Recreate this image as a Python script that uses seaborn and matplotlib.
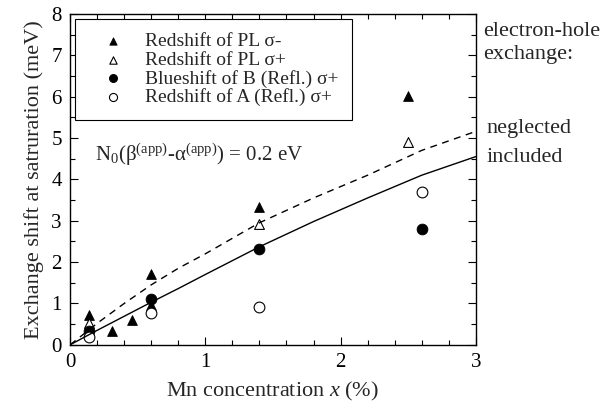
import numpy as np
import pandas as pd
import seaborn as sns
import matplotlib.pyplot as plt
from matplotlib.ticker import MultipleLocator

# measured points
pl_minus_x = [0.14, 0.31, 0.46, 0.6, 0.6, 1.4, 2.5]
pl_minus_y = [0.72, 0.33, 0.61, 1.70, 0.95, 3.33, 6.02]
pl_plus_x = [0.14, 1.4, 2.5]
pl_plus_y = [0.52, 2.91, 4.90]
refl_b_x = [0.14, 0.6, 1.4, 2.6]
refl_b_y = [0.33, 1.11, 2.31, 2.80]
refl_a_x = [0.14, 0.6, 1.4, 2.6]
refl_a_y = [0.19, 0.77, 0.92, 3.70]

# theory curves
curve_x = [0, 0.2, 0.4, 0.6, 0.8, 1.0, 1.4, 1.8, 2.2, 2.6, 3.0]
neglected_y = [0, 0.52, 1.0, 1.45, 1.85, 2.2, 2.95, 3.55, 4.1, 4.7, 5.16]
included_y = [0, 0.35, 0.69, 1.03, 1.36, 1.7, 2.37, 2.98, 3.55, 4.1, 4.55]

sns.set_style("ticks")
plt.rcParams['font.family'] = ['Liberation Serif', 'DejaVu Serif']
plt.rcParams['mathtext.fontset'] = 'custom'
plt.rcParams['mathtext.rm'] = 'Liberation Serif'
plt.rcParams['mathtext.it'] = 'Liberation Serif:italic'

fig = plt.figure(figsize=(6.1, 4.09), dpi=100)
ax = fig.add_axes([0.115, 0.157, 0.665, 0.809])

df_curve = pd.DataFrame({'x': curve_x, 'neg': neglected_y, 'inc': included_y})
sns.lineplot(data=df_curve, x='x', y='neg', ax=ax, color='black', lw=1,
             linestyle=(0, (5, 4)), legend=False)
sns.lineplot(data=df_curve, x='x', y='inc', ax=ax, color='black', lw=1, legend=False)

sns.scatterplot(x=pl_minus_x, y=pl_minus_y, ax=ax, marker='^', s=50,
                color='black', edgecolor='black', label=u'Redshift of PL \u03c3-')
sns.scatterplot(x=pl_plus_x, y=pl_plus_y, ax=ax, marker='^', s=50,
                facecolor='white', edgecolor='black', linewidth=0.8,
                label=u'Redshift of PL \u03c3+')
sns.scatterplot(x=refl_b_x, y=refl_b_y, ax=ax, marker='o', s=60,
                color='black', edgecolor='black', label=u'Blueshift of B (Refl.) \u03c3+')
sns.scatterplot(x=refl_a_x, y=refl_a_y, ax=ax, marker='o', s=60,
                facecolor='white', edgecolor='black', linewidth=0.8,
                label=u'Redshift of A (Refl.) \u03c3+')

ax.set_xlim(0, 3)
ax.set_ylim(0, 8)
ax.xaxis.set_major_locator(MultipleLocator(1))
ax.xaxis.set_minor_locator(MultipleLocator(0.2))
ax.yaxis.set_major_locator(MultipleLocator(1))
ax.yaxis.set_minor_locator(MultipleLocator(0.5))
ax.tick_params(which='both', direction='in', top=True, right=True, width=0.8,
               color='black', labelsize=15, labelcolor='black')
ax.tick_params(which='major', length=6, pad=6)
ax.tick_params(which='minor', length=3.5)
for sp in ax.spines.values():
    sp.set_color('black')
    sp.set_linewidth(1)

ax.set_xlabel(r'Mn concentration $\mathit{x}$ (%)', fontsize=16, labelpad=6)
ax.set_ylabel('Exchange shift at satruration (meV)', fontsize=16, labelpad=5)

leg = ax.legend(loc='upper left', bbox_to_anchor=(0.012, 0.985), borderaxespad=0,
                fontsize=14, frameon=True, fancybox=False, edgecolor='black',
                framealpha=1, handletextpad=0.4, borderpad=0.7, labelspacing=0.05,
                handlelength=2.5, markerscale=0.75)
leg.get_frame().set_linewidth(0.8)

ax.text(0.185, 4.6, u'N$_0$(\u03b2$^{\\rm (app)}$-\u03b1$^{\\rm (app)}$) = 0.2 eV',
        fontsize=15, va='center')

fig.text(0.792, 0.922, 'electron-hole', fontsize=16, va='center')
fig.text(0.792, 0.866, 'exchange:', fontsize=16, va='center')
fig.text(0.798, 0.687, 'neglected', fontsize=16, va='center')
fig.text(0.798, 0.616, 'included', fontsize=16, va='center')

fig.savefig('out.png', dpi=100)
